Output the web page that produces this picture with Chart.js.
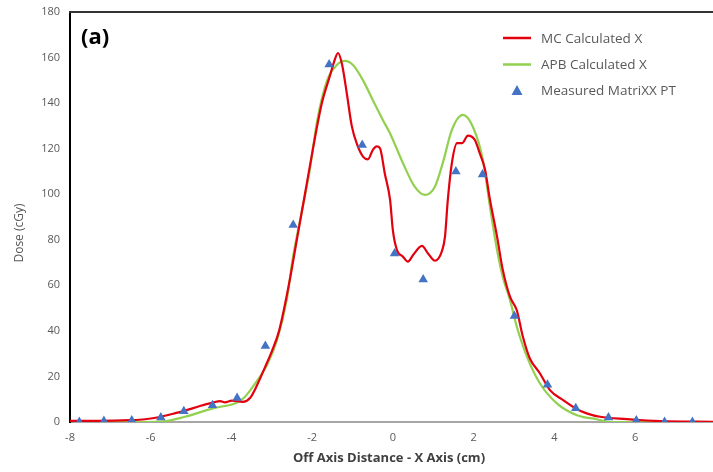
<!DOCTYPE html>
<html>
<head>
<meta charset="utf-8">
<script src="https://cdn.jsdelivr.net/npm/chart.js@4/dist/chart.umd.min.js"></script>
<style>
  html, body { margin: 0; padding: 0; background: #fff; }
  #wrap { width: 713px; height: 472px; }
</style>
</head>
<body>
<div id="wrap"><canvas id="myChart" width="713" height="472"></canvas></div>
<script>
// MC calculated profile (red)
let mcX = [-8.0, -7.26, -6.51, -6.14, -5.77, -5.47, -5.15, -4.78, -4.46, -4.28, -4.16, -3.99, -3.72, -3.54, -3.37, -3.17, -3.0,
  -2.82, -2.58, -2.38, -2.18, -1.98, -1.76, -1.56, -1.46, -1.36, -1.26, -1.14, -1.02, -0.89, -0.74, -0.62, -0.5, -0.4, -0.32,
  -0.2, -0.07, 0.0, 0.1, 0.25, 0.37, 0.5, 0.72, 0.87, 1.04, 1.21, 1.29, 1.36, 1.46, 1.59, 1.71, 1.86, 2.03, 2.15, 2.28, 2.4,
  2.58, 2.72, 2.9, 3.07, 3.22, 3.39, 3.64, 3.89, 4.21, 4.56, 4.8, 5.13, 5.8, 6.61, 7.93];
let mcY = [0.5, 0.5, 0.8, 1.2, 2.2, 3.5, 5.0, 7.0, 8.5, 9.2, 8.6, 9.4, 8.8, 10.5, 16, 24, 31,
  40, 60, 80, 100, 120, 140, 152, 158, 162, 157, 144, 130, 122, 116.5, 115.3, 119.4, 121, 120.2,
  109, 97.5, 84, 75.5, 72.6, 70.4, 73.3, 77.3, 74, 70.8, 74.8, 81.4, 97.5, 113.6, 122.4, 122.4, 125.7, 123.8, 118, 111, 98,
  81.4, 67, 55, 49, 37.4, 28, 21.4, 14, 9.7, 5.6, 3.8, 2.3, 1.3, 0.4, 0.1];

// APB calculated profile (green)
let apbX = [-8.0, -6.27, -5.65, -5.15, -4.46, -3.86, -3.67, -3.47, -3.12, -2.87, -2.63, -2.48, -2.25, -2.06, -1.88, -1.63,
  -1.39, -1.19, -0.99, -0.74, -0.5, -0.25, -0.07, 0.25, 0.54, 0.79, 1.04, 1.24, 1.46, 1.73, 1.98, 2.23, 2.4, 2.58, 2.72,
  2.9, 3.07, 3.32, 3.64, 4.06, 4.56, 5.05, 5.37, 7.93];
let apbY = [0, 0, 0.3, 2.3, 6, 8.6, 11, 15.5, 25, 36, 53.6, 72, 93, 110.6, 132, 150,
  156.7, 158.5, 156.7, 150, 141.4, 132.6, 126.7, 113.6, 103.3, 99.7, 103.3, 114, 128.2, 134.8, 129.6, 115, 95, 75.5, 63.8,
  53.6, 41.8, 28.7, 17, 8.2, 3, 1.2, 0, 0];

// Measured MatriXX points
let measX = [-7.77, -7.16, -6.47, -5.75, -5.18, -4.47, -3.86, -3.16, -2.47, -1.58, -0.76, 0.04, 0.75, 1.56, 2.22,
  3.01, 3.83, 4.53, 5.34, 6.03, 6.73, 7.42];
let measY = [0, 0.4, 0.7, 2, 4.7, 7.3, 10.5, 33.4, 86.5, 157, 121.6, 74, 62.6, 110, 108.7,
  46.5, 16.4, 6, 2, 0.7, 0, 0];

let xTicks = [-8, -6, -4, -2, 0, 2, 4, 6];
let yTicks = [0, 20, 40, 60, 80, 100, 120, 140, 160, 180];

function pts(xs, ys) {
  return xs.map(function (v, i) { return { x: v, y: ys[i] }; });
}

let fontFam = "'Open Sans', 'Liberation Sans', sans-serif";
let grey = '#595959';

/* frame, titles, (a) and legend */
let extras = {
  id: 'extras',
  afterDraw: function (chart) {
    let ctx = chart.ctx;
    let a = chart.chartArea;
    ctx.save();
    // top border
    ctx.strokeStyle = '#333';
    ctx.lineWidth = 2;
    ctx.beginPath();
    ctx.moveTo(a.left - 1, a.top);
    ctx.lineTo(a.right, a.top);
    ctx.stroke();

    // axis titles
    ctx.textBaseline = 'middle';
    ctx.textAlign = 'center';
    ctx.fillStyle = '#404040';
    ctx.font = 'bold 13px ' + fontFam;
    ctx.fillText('Off Axis Distance - X Axis (cm)', 389, 458);
    ctx.save();
    ctx.translate(20, 233);
    ctx.rotate(-Math.PI / 2);
    ctx.fillStyle = grey;
    ctx.font = '12px ' + fontFam;
    ctx.fillText('Dose (cGy)', 0, 0);
    ctx.restore();

    // panel label
    ctx.fillStyle = '#000';
    ctx.font = 'bold 22px ' + fontFam;
    ctx.textAlign = 'left';
    ctx.fillText('(a)', 81, 38);

    // legend
    let ds = chart.data.datasets;
    let rows = [38, 64.5, 90];
    ctx.font = '13.5px ' + fontFam;
    for (let i = 0; i < ds.length; i++) {
      let y = rows[i];
      if (ds[i].showLine === false) {
        ctx.fillStyle = ds[i].backgroundColor;
        ctx.beginPath();
        ctx.moveTo(517, y - 5);
        ctx.lineTo(522.5, y + 5);
        ctx.lineTo(511.5, y + 5);
        ctx.closePath();
        ctx.fill();
      } else {
        ctx.strokeStyle = ds[i].borderColor;
        ctx.lineWidth = 2.5;
        ctx.beginPath();
        ctx.moveTo(503, y);
        ctx.lineTo(531, y);
        ctx.stroke();
      }
      ctx.fillStyle = grey;
      ctx.fillText(ds[i].label, 541, y + 1);
    }
    ctx.restore();
  }
};

let config = {
  type: 'scatter',
  data: {
    datasets: [
      {
        label: 'MC Calculated X',
        data: pts(mcX, mcY),
        showLine: true,
        borderColor: '#e3000f',
        backgroundColor: '#e3000f',
        borderWidth: 2.2,
        pointRadius: 0,
        cubicInterpolationMode: 'monotone',
        order: 2
      },
      {
        label: 'APB Calculated X',
        data: pts(apbX, apbY),
        showLine: true,
        borderColor: '#92d050',
        backgroundColor: '#92d050',
        borderWidth: 2.2,
        pointRadius: 0,
        cubicInterpolationMode: 'monotone',
        order: 3
      },
      {
        label: 'Measured MatriXX PT',
        data: pts(measX, measY),
        showLine: false,
        pointStyle: 'triangle',
        pointRadius: 5.5,
        backgroundColor: '#4472c4',
        borderColor: '#4472c4',
        borderWidth: 0,
        order: 1
      }
    ]
  },
  options: {
    responsive: false,
    animation: false,
    layout: { autoPadding: false, padding: { top: 12, right: 0, left: 0, bottom: 0 } },
    plugins: {
      legend: { display: false },
      tooltip: { enabled: false }
    },
    scales: {
      x: {
        type: 'linear',
        min: -8,
        max: 7.93,
        afterBuildTicks: function (s) { s.ticks = xTicks.map(function (v) { return { value: v }; }); },
        afterFit: function (s) { s.height = 50; s.paddingLeft = 0; s.paddingRight = 0; },
        grid: { display: false, drawTicks: false },
        border: { display: true, color: '#a6a6a6', width: 2 },
        ticks: { color: grey, font: { size: 11, family: fontFam }, padding: 9, maxRotation: 0 }
      },
      y: {
        min: 0,
        max: 180,
        afterBuildTicks: function (s) { s.ticks = yTicks.map(function (v) { return { value: v }; }); },
        afterFit: function (s) { s.width = 70; s.paddingTop = 0; s.paddingBottom = 0; },
        grid: { display: false, drawTicks: false },
        border: { display: true, color: '#000', width: 2 },
        ticks: { color: grey, font: { size: 11, family: fontFam }, padding: 10 }
      }
    }
  },
  plugins: [extras]
};

let myChart = new Chart(document.getElementById('myChart'), config);
</script>
</body>
</html>
